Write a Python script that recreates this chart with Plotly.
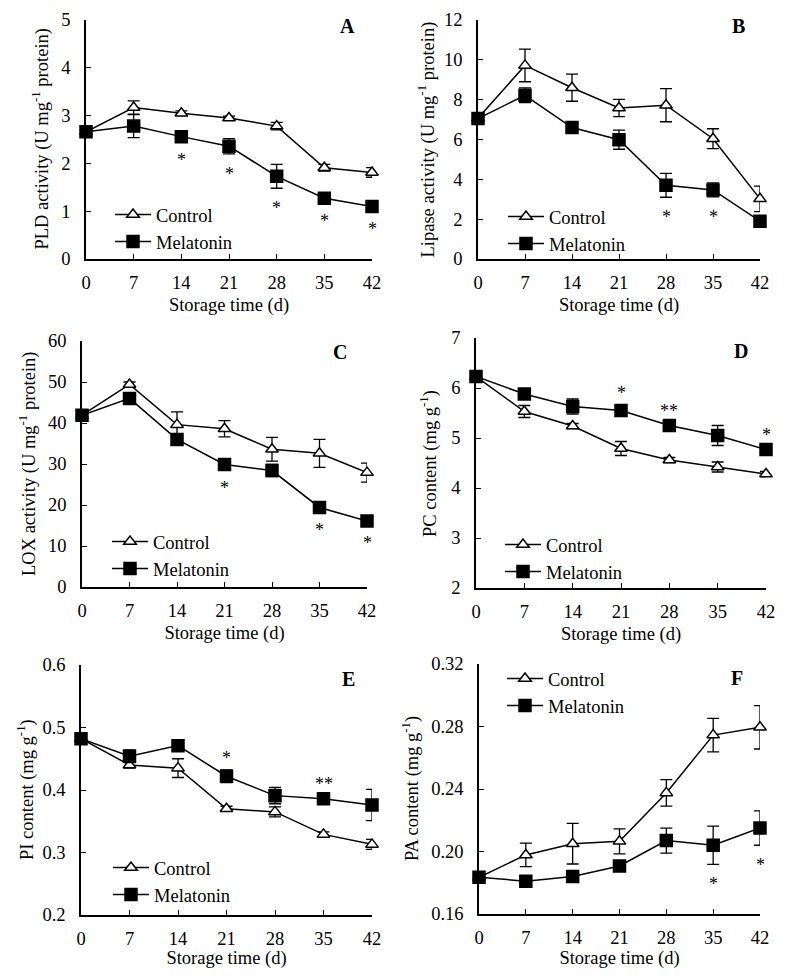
"""Six-panel storage time figure (PLD, lipase, LOX, PC, PI, PA) rebuilt with Plotly."""

import plotly.graph_objects as go

# Shared x values: storage time (d)
days = [0, 7, 14, 21, 28, 35, 42]

# Panel A - PLD activity
pld_control = [2.66, 3.17, 3.05, 2.95, 2.78, 1.91, 1.81]
pld_control_err = [0.05, 0.14, 0.05, 0.04, 0.08, 0.07, 0.10]
pld_melatonin = [2.66, 2.78, 2.56, 2.36, 1.73, 1.27, 1.10]
pld_melatonin_err = [0.05, 0.24, 0.08, 0.16, 0.25, 0.05, 0.05]
pld_stars = {14: '*', 21: '*', 28: '*', 35: '*', 42: '*'}

# Panel B - Lipase activity
lip_control = [7.07, 9.72, 8.60, 7.58, 7.72, 6.04, 3.02]
lip_control_err = [0.10, 0.82, 0.68, 0.43, 0.83, 0.50, 0.64]
lip_melatonin = [7.05, 8.22, 6.60, 5.99, 3.70, 3.47, 1.90]
lip_melatonin_err = [0.10, 0.37, 0.10, 0.48, 0.60, 0.35, 0.10]
lip_stars = {28: '*', 35: '*'}

# Panel C - LOX activity
lox_control = [41.9, 49.4, 39.6, 38.6, 33.6, 32.6, 27.9]
lox_control_err = [0.5, 0.6, 3.1, 2.0, 2.9, 3.4, 2.3]
lox_melatonin = [41.9, 46.0, 36.0, 29.9, 28.4, 19.4, 16.1]
lox_melatonin_err = [0.5, 1.0, 0.6, 0.8, 1.5, 0.5, 0.5]
lox_stars = {21: '*', 35: '*', 42: '*'}

# Panel D - PC content
pc_control = [6.23, 5.53, 5.24, 4.79, 4.56, 4.42, 4.28]
pc_control_err = [0.04, 0.12, 0.05, 0.14, 0.05, 0.10, 0.05]
pc_melatonin = [6.23, 5.88, 5.63, 5.55, 5.25, 5.05, 4.77]
pc_melatonin_err = [0.04, 0.05, 0.15, 0.10, 0.05, 0.20, 0.05]
pc_stars = {21: '*', 28: '**', 42: '*'}

# Panel E - PI content
pi_control = [0.482, 0.440, 0.435, 0.370, 0.365, 0.329, 0.313]
pi_control_err = [0.004, 0.005, 0.015, 0.004, 0.008, 0.004, 0.008]
pi_melatonin = [0.482, 0.454, 0.471, 0.422, 0.391, 0.386, 0.376]
pi_melatonin_err = [0.004, 0.010, 0.004, 0.010, 0.013, 0.004, 0.025]
pi_stars = {21: '*', 35: '**'}

# Panel F - PA content
pa_control = [0.1835, 0.1978, 0.2050, 0.2065, 0.2375, 0.2745, 0.2795]
pa_control_err = [0.0010, 0.0075, 0.0130, 0.0080, 0.0085, 0.0107, 0.0139]
pa_melatonin = [0.1835, 0.1810, 0.1840, 0.1907, 0.2070, 0.2040, 0.2150]
pa_melatonin_err = [0.0010, 0.0010, 0.0010, 0.0010, 0.0080, 0.0122, 0.0110]
pa_stars = {35: '*', 42: '*'}

FONT = 'Liberation Serif'
FS = 18.5
BLACK = 'black'
# the page body adds an 8px margin, so the figure is drawn 8px in from the window edge
PAGE_PAD = 8
W, H = 787 - 2 * PAGE_PAD, 977 - 2 * PAGE_PAD

PANELS = [
    dict(letter='A', ctrl=pld_control, ctrl_err=pld_control_err,
         mel=pld_melatonin, mel_err=pld_melatonin_err, stars=pld_stars, star_side=-1,
         yrange=[0, 5], dtick=1, tickformat='d',
         ytitle='PLD activity (U mg<sup>-1</sup> protein)',
         box=(86, 372, 20, 259), title_off=45, legend_xy=(110, 196), letter_xy=(347, 26)),
    dict(letter='B', ctrl=lip_control, ctrl_err=lip_control_err,
         mel=lip_melatonin, mel_err=lip_melatonin_err, stars=lip_stars, star_side=-1,
         yrange=[0, 12], dtick=2, tickformat='d',
         ytitle='Lipase activity (U mg<sup>-1</sup> protein)',
         box=(478, 760, 20, 259), title_off=51, legend_xy=(503, 198), letter_xy=(738, 26)),
    dict(letter='C', ctrl=lox_control, ctrl_err=lox_control_err,
         mel=lox_melatonin, mel_err=lox_melatonin_err, stars=lox_stars, star_side=-1,
         yrange=[0, 60], dtick=10, tickformat='d',
         ytitle='LOX activity (U mg<sup>-1</sup> protein)',
         box=(82, 367, 341, 587), title_off=54, legend_xy=(107, 523), letter_xy=(340, 352)),
    dict(letter='D', ctrl=pc_control, ctrl_err=pc_control_err,
         mel=pc_melatonin, mel_err=pc_melatonin_err, stars=pc_stars, star_side=1,
         yrange=[2, 7], dtick=1, tickformat='d',
         ytitle='PC content (mg g<sup>-1</sup>)',
         box=(476, 766, 338, 588), title_off=48, legend_xy=(500, 526), letter_xy=(741, 351)),
    dict(letter='E', ctrl=pi_control, ctrl_err=pi_control_err,
         mel=pi_melatonin, mel_err=pi_melatonin_err, stars=pi_stars, star_side=1,
         yrange=[0.2, 0.6], dtick=0.1, tickformat='.1f',
         ytitle='PI content (mg g<sup>-1</sup>)',
         box=(81, 372, 665, 915), title_off=56, legend_xy=(108, 849), letter_xy=(348, 679)),
    dict(letter='F', ctrl=pa_control, ctrl_err=pa_control_err,
         mel=pa_melatonin, mel_err=pa_melatonin_err, stars=pa_stars, star_side=-1,
         yrange=[0.16, 0.32], dtick=0.04, tickformat='.2f',
         ytitle='PA content (mg g<sup>-1</sup>)',
         box=(479, 760, 664, 914), title_off=69, legend_xy=(502, 660), letter_xy=(737, 678)),
]


def px_x(v):
    return (v - PAGE_PAD) / W


def px_y(v):
    return 1 - (v - PAGE_PAD) / H


def add_panel(fig, i, p):
    """Add the two series, error bars, stars, letter and axes of one panel."""
    n = i + 1
    xa, ya = f'x{n}' if n > 1 else 'x', f'y{n}' if n > 1 else 'y'
    leg = f'legend{n}' if n > 1 else 'legend'

    for name, vals, errs, symbol, fill, size in [
            ('Control', p['ctrl'], p['ctrl_err'], 'triangle-up', 'white', 11),
            ('Melatonin', p['mel'], p['mel_err'], 'square', BLACK, 12)]:
        fig.add_trace(go.Scatter(
            x=days, y=vals, name=name, mode='lines+markers',
            xaxis=xa, yaxis=ya, legend=leg, cliponaxis=False,
            line=dict(color=BLACK, width=1.5),
            marker=dict(symbol=symbol, size=size, color=fill,
                        line=dict(color=BLACK, width=1.5)),
            error_y=dict(type='data', array=errs, visible=True,
                         color=BLACK, thickness=1.3, width=6),
        ))

    # significance marks next to the melatonin error bars
    for d, txt in p['stars'].items():
        k = days.index(d)
        yv = p['mel'][k] + p['star_side'] * p['mel_err'][k]
        fig.add_annotation(x=d, y=yv, xref=xa, yref=ya, text=txt, showarrow=False,
                           yanchor='middle', yshift=p['star_side'] * 16 - 4,
                           font=dict(family=FONT, size=18, color=BLACK))

    x0, x1, t, b = p['box']
    lx, ly = p['letter_xy']
    fig.add_annotation(x=px_x(lx), y=px_y(ly), xref='paper', yref='paper',
                       text=f"<b>{p['letter']}</b>", showarrow=False,
                       xanchor='center', yanchor='middle',
                       font=dict(family=FONT, size=20, color=BLACK))

    # y title as rotated text left of the tick labels
    fig.add_annotation(x=px_x(x0 - p['title_off']), y=px_y((t + b) / 2),
                       xref='paper', yref='paper', text=p['ytitle'], textangle=-90,
                       showarrow=False, xanchor='center', yanchor='middle',
                       font=dict(family=FONT, size=FS, color=BLACK))

    axis_common = dict(showline=True, linecolor=BLACK, linewidth=1.5, mirror=False,
                       ticks='inside', ticklen=5, tickwidth=1.3, tickcolor=BLACK,
                       showgrid=False, zeroline=False, automargin=False,
                       ticklabeloverflow='allow',
                       tickfont=dict(family=FONT, size=FS, color=BLACK))
    fig.layout[f'xaxis{n}' if n > 1 else 'xaxis'] = dict(
        axis_common, domain=[px_x(x0), px_x(x1)], anchor=ya, range=[0, 42],
        tickvals=days, ticklabelstandoff=6,
        title=dict(text='Storage time (d)', standoff=6 if i < 4 else 4,
                   font=dict(family=FONT, size=FS, color=BLACK)))
    fig.layout[f'yaxis{n}' if n > 1 else 'yaxis'] = dict(
        axis_common, domain=[px_y(b), px_y(t)], anchor=xa, range=p['yrange'],
        dtick=p['dtick'], tick0=p['yrange'][0], tickformat=p['tickformat'],
        ticklabelstandoff=10)

    gx, gy = p['legend_xy']
    fig.layout[leg] = dict(x=px_x(gx), y=px_y(gy), xanchor='left', yanchor='top',
                           bgcolor='rgba(0,0,0,0)', borderwidth=0,
                           tracegroupgap=0, itemwidth=36,
                           font=dict(family=FONT, size=FS, color=BLACK))


fig = go.Figure()
for i, p in enumerate(PANELS):
    add_panel(fig, i, p)

fig.update_layout(
    width=W, height=H,
    margin=dict(l=0, r=0, t=0, b=0, autoexpand=False),
    plot_bgcolor='white', paper_bgcolor='white',
    font=dict(family=FONT, size=FS, color=BLACK),
    showlegend=True,
)

fig.write_html("out.html")
